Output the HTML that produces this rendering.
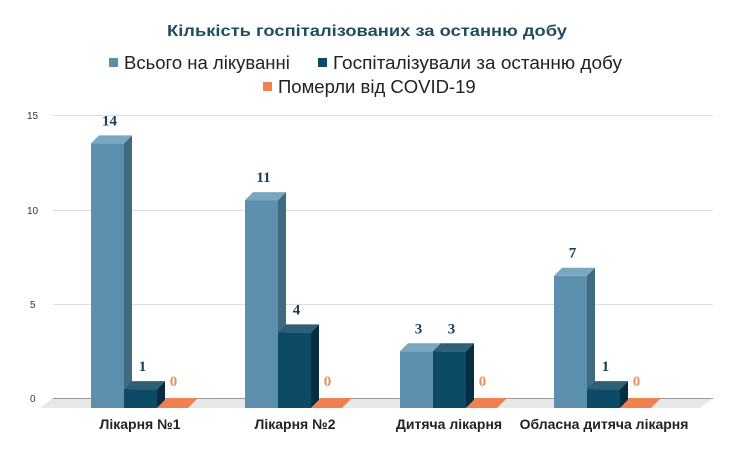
<!DOCTYPE html>
<html><head><meta charset="utf-8"><style>
html,body{margin:0;padding:0;background:#fff;width:733px;height:453px;overflow:hidden}
svg{display:block}
.s{font-family:"Liberation Sans","Noto Sans CJK SC",sans-serif}
.v{font-family:"Liberation Serif",serif;font-weight:bold;font-size:15px;fill:#1c3f55}
.z{font-family:"Liberation Serif",serif;font-weight:bold;font-size:15px;fill:#e8905f}
</style></head><body>
<svg width="733" height="453" xmlns="http://www.w3.org/2000/svg">
<text class="s" x="367" y="36" text-anchor="middle" font-size="15.5" font-weight="bold" fill="#1f4e5f" textLength="400" lengthAdjust="spacingAndGlyphs">Кількість госпіталізованих за останню добу</text>
<g class="s" font-size="18.5" fill="#222">
<rect x="109" y="58" width="9" height="9" fill="#5b8fad"/><text x="124" y="69">Всього на лікуванні</text>
<rect x="318" y="58" width="9" height="9" fill="#0c4a66"/><text x="333" y="69" textLength="289" lengthAdjust="spacingAndGlyphs">Госпіталізували за останню добу</text>
<rect x="263" y="82" width="9" height="9" fill="#f0804f"/><text x="278" y="93">Померли від COVID-19</text>
</g>
<g stroke="#dddddd" stroke-width="1">
<line x1="53" y1="115.5" x2="713" y2="115.5"/><line x1="53" y1="210.5" x2="713" y2="210.5"/><line x1="53" y1="304.5" x2="713" y2="304.5"/>
</g>
<polygon points="40,408 53,398 713,398 700,408" fill="#e8e8e8"/>
<line x1="53" y1="398.5" x2="713" y2="398.5" stroke="#999" stroke-width="1"/>
<g class="s" font-size="10" fill="#333">
<text x="27" y="119">15</text><text x="27" y="214">10</text><text x="30" y="308">5</text><text x="30" y="402">0</text>
</g>
<g id="bars"></g>
<g class="s" font-size="14" font-weight="bold" fill="#222" text-anchor="middle">
<text x="140" y="429">Лікарня №1</text><text x="295" y="429">Лікарня №2</text><text x="449" y="429">Дитяча лікарня</text><text x="604" y="429">Обласна дитяча лікарня</text>
</g>
<script>
var g=document.getElementById('bars'),N='http://www.w3.org/2000/svg';
function p(pts,f){var e=document.createElementNS(N,'polygon');e.setAttribute('points',pts);e.setAttribute('fill',f);g.appendChild(e);}
function t(x,y,s,c){var e=document.createElementNS(N,'text');e.setAttribute('x',x);e.setAttribute('y',y);e.setAttribute('class',c);e.setAttribute('text-anchor','middle');e.textContent=s;g.appendChild(e);}
var C=[['#5b8fad','#3f6a80','#7aa6bf'],['#0c4a66','#062d40','#2d5f78']];
var groups=[[91,14,1],[245,11,4],[400,3,3],[554,7,1]];
var B=408,U=18.9,W=33,D=8;
groups.forEach(function(gr){
 var x0=gr[0];
 for(var i=0;i<2;i++){
  var x=x0+i*W,h=gr[i+1]*U,top=B-h,c=C[i];
  p(x+','+top+' '+(x+W)+','+top+' '+(x+W)+','+B+' '+x+','+B,c[0]);
  p((x+W)+','+top+' '+(x+W+D)+','+(top-D)+' '+(x+W+D)+','+(B-D)+' '+(x+W)+','+B,c[1]);
  p(x+','+top+' '+(x+D)+','+(top-D)+' '+(x+W+D)+','+(top-D)+' '+(x+W)+','+top,c[2]);
  t(x+W/2+2,top-18,gr[i+1],'v');
 }
 var xo=x0+2*W;
 p(xo+','+B+' '+(xo+D+2)+','+(B-D-2)+' '+(xo+W+D)+','+(B-D-2)+' '+(xo+W-2)+','+B,'#f0804f');
 t(xo+W/2,B-22,'0','z');
});
</script>
</svg>
</body></html>
